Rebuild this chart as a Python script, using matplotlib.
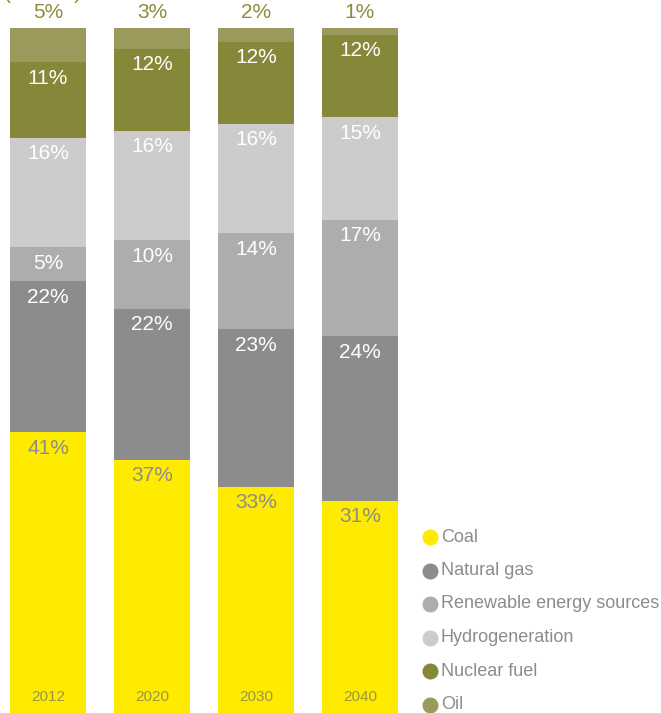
import matplotlib.pyplot as plt
import numpy as np

plt.rcParams['font.family'] = ['Liberation Sans', 'DejaVu Sans']

years = ['2012', '2020', '2030', '2040']
sources = ['Coal', 'Natural gas', 'Renewable energy sources', 'Hydrogeneration', 'Nuclear fuel', 'Oil']
coal = [41, 37, 33, 31]
gas = [22, 22, 23, 24]
renewable = [5, 10, 14, 17]
hydro = [16, 16, 16, 15]
nuclear = [11, 12, 12, 12]
oil = [5, 3, 2, 1]

colors = ['#ffeb00', '#8c8c8c', '#adadad', '#cccccc', '#87873a', '#9b9a5c']
label_colors = ['#8c8c8c', 'white', 'white', 'white', 'white', '#8c8c3a']

W, H = 661, 713
fig = plt.figure(figsize=(W / 100, H / 100), dpi=100)
# bars span from the bottom of the figure up to 28 px below the top
ax = fig.add_axes([0, 0, 1, (H - 28) / H])
ax.set_xlim(-48 / 104, (W - 48) / 104)
ax.set_ylim(0, 100)
ax.axis('off')

x = np.arange(len(years))
series = [coal, gas, renewable, hydro, nuclear, oil]
bottom = np.zeros(len(years))
px = 100 / (H - 28)  # data units per pixel
for vals, col, lcol in zip(series, colors, label_colors):
    vals = np.array(vals)
    ax.bar(x, vals, width=76 / 104, bottom=bottom, color=col, linewidth=0)
    top = bottom + vals
    for xi, t, v in zip(x, top, vals):
        if col == colors[-1]:
            ax.text(xi, t + 15 * px, f'{v}%', ha='center', va='center',
                    fontsize=15, color=lcol, clip_on=False)
        else:
            ax.text(xi, t - 16 * px, f'{v}%', ha='center', va='center',
                    fontsize=15, color=lcol)
    bottom = top

for xi, yr in zip(x, years):
    ax.text(xi, 16 * px, yr, ha='center', va='center', fontsize=11, color='#9a9640')

# legend
for i, (name, col) in enumerate(zip(sources, colors)):
    yf = 1 - (537 + i * 33.5) / H
    fig.lines.append(plt.Line2D([430 / W], [yf], marker='o', markersize=10.5,
                                color=col, linestyle='', transform=fig.transFigure))
    fig.text(441 / W, yf, name, ha='left', va='center', fontsize=13, color='#8c8c8c')

# clipped unit label at top
fig.text(43 / W, 1 + 1 / H, '(           )', ha='center', va='baseline',
         fontsize=15, color='#8c8c3a')

fig.savefig('out.png', dpi=100)
